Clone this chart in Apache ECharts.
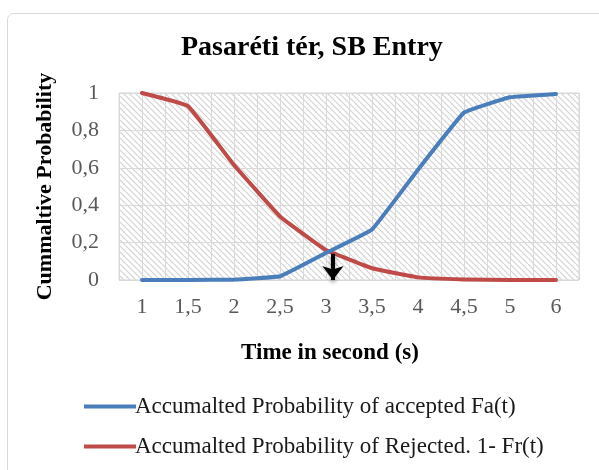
<!DOCTYPE html>
<html>
<head>
<meta charset="utf-8">
<script src="https://cdn.jsdelivr.net/npm/echarts@6/dist/echarts.min.js"></script>
<style>
	html, body {margin: 0; padding: 0; background: #fff;}
	#chart {width: 599px; height: 470px;}
</style>
</head>
<body>
<div id="chart"></div>
<script>
const categories = ['1', '1,5', '2', '2,5', '3', '3,5', '4', '4,5', '5', '6'];
const accepted = [0, 0, 0.002, 0.02, 0.145, 0.27, 0.59, 0.895, 0.977, 0.995];
const rejected = [1, 0.93, 0.615, 0.34, 0.16, 0.063, 0.014, 0.003, 0, 0];
const yTicks = [0, 0.2, 0.4, 0.6, 0.8, 1];

// arrow under the crossing point, in half-category units of the helper axis
const arrowX = 9.3;
const arrowTop = 0.14;

const serif = '"Liberation Serif", "Times New Roman", serif';

function hatch() {
	const s = 6;
	const c = document.createElement('canvas');
	c.width = s;
	c.height = s;
	const ctx = c.getContext('2d');
	ctx.fillStyle = '#fff';
	ctx.fillRect(0, 0, s, s);
	ctx.strokeStyle = '#d2d2d2';
	ctx.lineWidth = 1.2;
	ctx.beginPath();
	for (let k = -1; k <= 1; k++) {
		ctx.moveTo(k * s, 0);
		ctx.lineTo(k * s + s, s);
	}
	ctx.stroke();
	return c;
}

function fmt(v) {
	if (v === 0 || v === 1) {
		return String(v);
	}
	return v.toFixed(1).replace('.', ',');
}

const chart = echarts.init(document.getElementById('chart'), null, {renderer: 'canvas'});

chart.setOption({
	animation: false,
	graphic: [
		{
			type: 'rect',
			left: 5,
			top: 11,
			shape: {width: 640, height: 520, r: 6},
			style: {fill: 'none', stroke: '#d9d9d9', lineWidth: 1},
			silent: true,
		},
	],
	title: {
		text: 'Pasaréti tér, SB Entry',
		left: 176,
		top: 29,
		textStyle: {
			fontFamily: serif,
			fontWeight: 'bold',
			fontSize: 28,
			color: '#000',
		},
	},
	legend: {
		data: ['Accumalted Probability of accepted Fa(t)', 'Accumalted Probability of Rejected. 1- Fr(t)'],
		orient: 'vertical',
		left: 79,
		top: 390,
		itemWidth: 52,
		itemHeight: 4,
		itemGap: 17,
		icon: 'rect',
		textStyle: {
			fontFamily: serif,
			fontSize: 23,
			color: '#1a1a1a',
			padding: [0, 0, 0, -6],
		},
	},
	grid: {
		left: 119,
		top: 93,
		right: 20,
		bottom: 190,
		show: true,
		backgroundColor: {image: hatch(), repeat: 'repeat'},
		borderColor: '#d9d9d9',
		borderWidth: 1,
	},
	xAxis: [
		{
			type: 'category',
			data: categories,
			boundaryGap: true,
			name: 'Time in second (s)',
			nameLocation: 'middle',
			nameGap: 62,
			nameTextStyle: {
				fontFamily: serif,
				fontWeight: 'bold',
				fontSize: 23,
				color: '#000',
				padding: [0, 38, 0, 0],
			},
			axisLine: {show: false},
			axisTick: {show: false},
			splitLine: {show: false},
			axisLabel: {
				margin: 16,
				fontFamily: serif,
				fontSize: 22,
				color: '#595959',
			},
		},
		{
			type: 'value',
			min: 0,
			max: 20,
			interval: 1,
			position: 'bottom',
			axisLine: {show: false},
			axisTick: {show: false},
			axisLabel: {show: false},
			splitLine: {show: true, lineStyle: {color: '#d9d9d9', width: 1}},
		},
	],
	yAxis: {
		type: 'value',
		min: yTicks[0],
		max: yTicks[yTicks.length - 1],
		interval: 0.2,
		name: 'Cummaltive Probability',
		nameLocation: 'middle',
		nameGap: 63,
		nameTextStyle: {
			fontFamily: serif,
			fontWeight: 'bold',
			fontSize: 22,
			color: '#000',
		},
		axisLine: {show: false},
		axisTick: {show: false},
		splitLine: {show: true, lineStyle: {color: '#d9d9d9', width: 1}},
		axisLabel: {
			margin: 20,
			fontFamily: serif,
			fontSize: 22,
			color: '#595959',
			formatter: fmt,
		},
	},
	series: [
		{
			name: 'Accumalted Probability of accepted Fa(t)',
			type: 'line',
			data: accepted,
			smooth: 0.08,
			showSymbol: false,
			color: '#4a7ebb',
			lineStyle: {width: 4, cap: 'round', join: 'round'},
			z: 3,
		},
		{
			name: 'Accumalted Probability of Rejected. 1- Fr(t)',
			type: 'line',
			data: rejected,
			smooth: 0.08,
			showSymbol: false,
			color: '#be4b48',
			lineStyle: {width: 4, cap: 'round', join: 'round'},
			z: 2,
		},
		{
			name: 'arrow',
			type: 'line',
			xAxisIndex: 1,
			data: [],
			silent: true,
			z: 4,
			markLine: {
				silent: true,
				symbol: ['none', 'arrow'],
				symbolSize: [16, 14],
				label: {show: false},
				lineStyle: {
					color: '#000',
					width: 4,
					type: 'solid',
					shadowBlur: 4,
					shadowColor: 'rgba(0,0,0,0.45)',
					shadowOffsetY: 2,
				},
				data: [
					[
						{coord: [arrowX, arrowTop]},
						{coord: [arrowX, 0]},
					],
				],
			},
		},
	],
});
</script>
</body>
</html>
